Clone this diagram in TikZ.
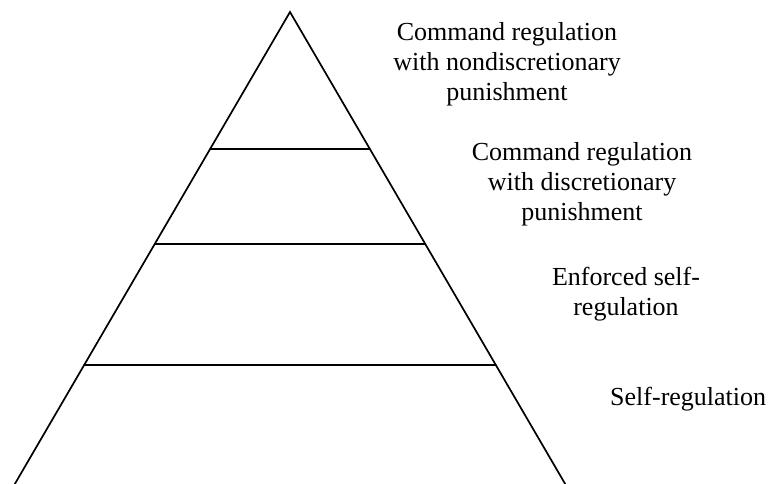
\documentclass[tikz,border=0pt]{standalone}
\usepackage{fontspec}
\setmainfont{Liberation Serif}
\usetikzlibrary{calc}
\begin{document}
\begin{tikzpicture}[x=1pt,y=-1pt,
  edge/.style={line width=1.7pt, line cap=round},
  tierlabel/.style={font=\fontsize{26}{30}\selectfont, align=center, inner sep=0pt, anchor=base}]
\useasboundingbox (0,0) rectangle (771,484);
% pyramid outline (base runs off the bottom edge)
\coordinate (apex) at (290,12);
\coordinate (bl) at (14.8,484);
\coordinate (br) at (565.2,484);
\draw[edge] (bl) -- (apex) -- (br);
% tier boundaries
\coordinate (l1) at ($(apex)!0.2903!(bl)$);
\coordinate (r1) at ($(apex)!0.2903!(br)$);
\coordinate (l2) at ($(apex)!0.4915!(bl)$);
\coordinate (r2) at ($(apex)!0.4915!(br)$);
\coordinate (l3) at ($(apex)!0.7479!(bl)$);
\coordinate (r3) at ($(apex)!0.7479!(br)$);
\draw[edge] (l1) -- (r1);
\draw[edge] (l2) -- (r2);
\draw[edge] (l3) -- (r3);
% tier labels (base anchor sits on the last line)
\node[tierlabel] (t1) at (507,101) {Command regulation\\with nondiscretionary\\punishment};
\node[tierlabel] (t2) at (582,220) {Command regulation\\with discretionary\\punishment};
\node[tierlabel] (t3) at (626,315) {Enforced self-\\regulation};
\node[tierlabel, anchor=base west] (t4) at (610,405) {Self-regulation};
\end{tikzpicture}
\end{document}
